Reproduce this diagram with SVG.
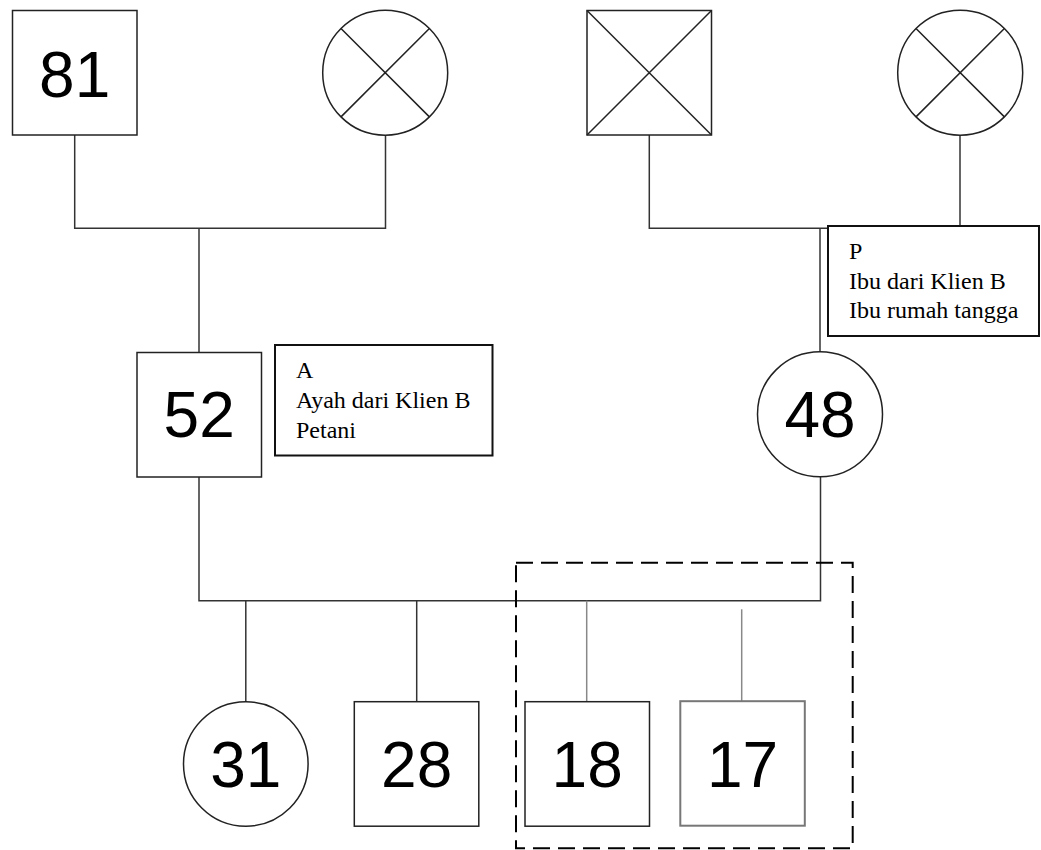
<svg xmlns="http://www.w3.org/2000/svg" width="1041" height="850" viewBox="0 0 1041 850">
<style>
.sh{fill:#fff;stroke:#222;stroke-width:1.5}
.x{stroke:#222;stroke-width:1.5;fill:none}
.ln{stroke:#333;stroke-width:1.5;fill:none}
.gl{stroke:#888;stroke-width:1.5;fill:none}
.num{font-family:"Liberation Sans",Arial,sans-serif;font-size:64px;fill:#000;text-anchor:middle}
.lbl{font-family:"Liberation Serif","Times New Roman",serif;font-size:24px;fill:#000}
.tb{fill:#fff;stroke:#111;stroke-width:2}
</style>
<rect width="1041" height="850" fill="#fff"/>
<g id="connectors">
<path class="ln" d="M74.7,135 V228.3 H385.5 V135"/>
<path class="ln" d="M199,228.3 V352.5"/>
<path class="ln" d="M649.3,135 V228.3 H828"/>
<path class="ln" d="M960,135 V226"/>
<path class="ln" d="M820,228.3 V352"/>
<path class="ln" d="M199,477 V600.7 H820.5 V477"/>
<path class="ln" d="M245.8,600.7 V701.7"/>
<path class="ln" d="M416.7,600.7 V701.7"/>
<path class="gl" d="M586.7,600.7 V701.7"/>
<path class="gl" d="M741.7,609.3 V701"/>
</g>
<g id="n81"><rect class="sh" x="12.5" y="10.5" width="124.5" height="124.5"/><text class="num" x="74.7" y="96.5">81</text></g>
<g id="gm1"><circle class="sh" cx="385.2" cy="72.7" r="62.5"/><path class="x" d="M341,28.5 L429.4,116.9 M429.4,28.5 L341,116.9"/></g>
<g id="gf2"><rect class="sh" x="587" y="10.5" width="124.5" height="124.5"/><path class="x" d="M587,10.5 L711.5,135 M711.5,10.5 L587,135"/></g>
<g id="gm2"><circle class="sh" cx="960.2" cy="72.7" r="62.5"/><path class="x" d="M916,28.5 L1004.4,116.9 M1004.4,28.5 L916,116.9"/></g>
<g id="n52"><rect class="sh" x="137" y="352.5" width="124.5" height="124.5"/><text class="num" x="199.2" y="437">52</text></g>
<g id="noteA"><rect class="tb" x="275" y="345" width="217.5" height="110.5"/>
<text class="lbl" x="296" y="377.7">A</text>
<text class="lbl" x="296" y="407.7">Ayah dari Klien B</text>
<text class="lbl" x="296" y="437.7">Petani</text></g>
<g id="n48"><circle class="sh" cx="820" cy="414.3" r="62.5"/><text class="num" x="820" y="436.5">48</text></g>
<g id="noteP"><rect class="tb" x="828" y="226" width="211" height="110"/>
<text class="lbl" x="849" y="259.3">P</text>
<text class="lbl" x="849" y="288.8">Ibu dari Klien B</text>
<text class="lbl" x="849" y="318.3">Ibu rumah tangga</text></g>
<g id="n31"><circle class="sh" cx="245.8" cy="764" r="62.3"/><text class="num" x="245.8" y="786.5">31</text></g>
<g id="n28"><rect class="sh" x="354.3" y="701.7" width="124.5" height="124.5"/><text class="num" x="416.7" y="786.5">28</text></g>
<g id="n18"><rect class="sh" x="525" y="701.7" width="124.5" height="124.5"/><text class="num" x="587.2" y="786.5">18</text></g>
<g id="n17"><rect class="sh" x="680.3" y="701.2" width="124.5" height="124.5" style="stroke:#777;stroke-width:2"/><text class="num" x="742.5" y="786.5">17</text></g>
<g id="group"><rect x="516" y="562.7" width="336.7" height="285.6" fill="none" stroke="#000" stroke-width="2" stroke-dasharray="17 8"/></g>
</svg>
